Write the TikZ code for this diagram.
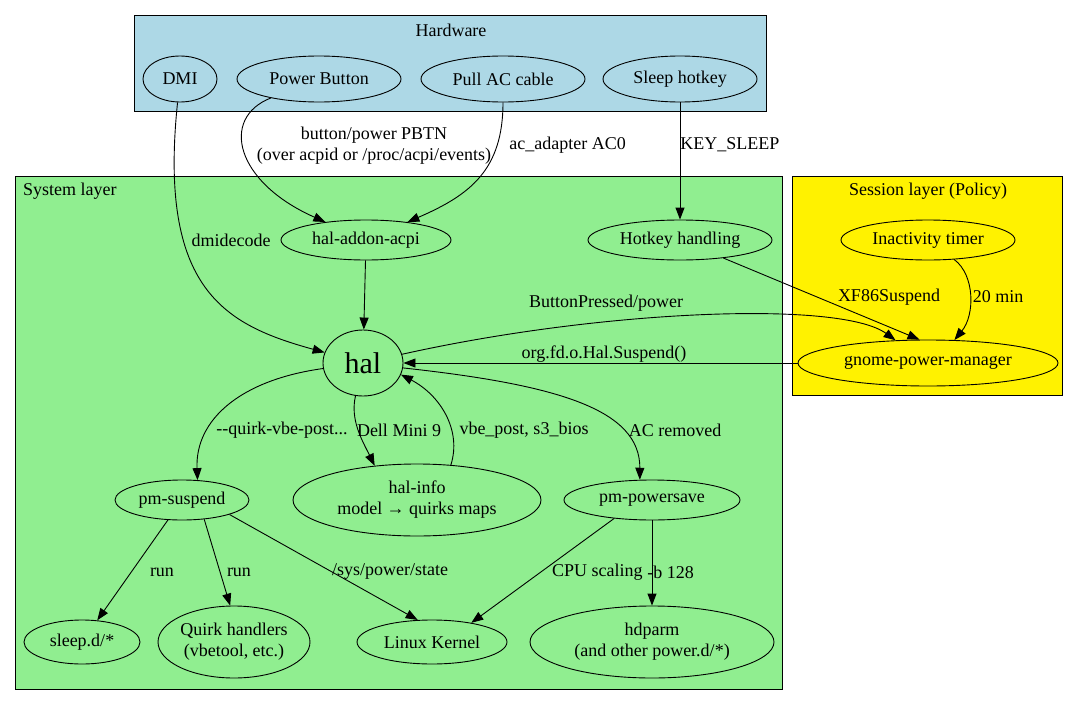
\documentclass[tikz,border=0pt]{standalone}
\usepackage{fontspec}
\setmainfont{Liberation Serif}
\usepackage{tikz}
\usetikzlibrary{arrows.meta,shapes.geometric}
\definecolor{hwblue}{HTML}{ADD8E6}
\definecolor{sysgreen}{HTML}{90EE90}

\begin{document}
\begin{tikzpicture}[x=1pt,y=-1pt,
    gv/.style={ellipse,draw,inner sep=0pt,align=center,line width=0.9pt,
      font=\fontsize{18}{21}\selectfont},
    lbl/.style={inner sep=0pt,align=center,font=\fontsize{18}{21}\selectfont},
    gve/.style={-{Triangle[length=12pt,width=9pt]},line width=0.9pt}]
    \useasboundingbox (0,0) rectangle (1077,715);
    % clusters
    \draw[fill=hwblue,line width=0.9pt] (134,15) rectangle (766,111);
    \node[lbl] (hwlab) at (451,30) {Hardware};
    \draw[fill=sysgreen,line width=0.9pt] (15,176) rectangle (782,689);
    \node[lbl,anchor=west] (syslab) at (23,191) {System layer};
    \draw[fill=yellow,line width=0.9pt] (792,176) rectangle (1062,395);
    \node[lbl] (seslab) at (928,191) {Session layer (Policy)};
    % hardware
    \node[gv,minimum width=74,minimum height=46] (dmi) at (180,79) {DMI};
    \node[gv,minimum width=164,minimum height=46] (pbtn) at (319,79) {Power Button};
    \node[gv,minimum width=164,minimum height=46] (acplug) at (503,79) {Pull AC cable};
    \node[gv,minimum width=154,minimum height=46] (slkey) at (680,79) {Sleep hotkey};
    % system layer
    \node[gv,minimum width=170,minimum height=40] (acpi) at (366,240) {hal-addon-acpi};
    \node[gv,minimum width=184,minimum height=40] (hotkey) at (680,240) {Hotkey handling};
    \node[gv,minimum width=80,minimum height=66,font=\fontsize{30}{32}\selectfont] (hal) at (363,363) {hal};
    \node[gv,minimum width=134,minimum height=40] (pmsus) at (182,500) {pm-suspend};
    \node[gv,minimum width=248,minimum height=72] (halinfo) at (417,500) {hal-info\\model → quirks maps};
    \node[gv,minimum width=176,minimum height=40] (pmpow) at (652,500) {pm-powersave};
    \node[gv,minimum width=116,minimum height=44] (sleepd) at (82,642) {sleep.d/*};
    \node[gv,minimum width=144,minimum height=72] (quirk) at (234,642) {Quirk handlers\\(vbetool, etc.)};
    \node[gv,minimum width=150,minimum height=44] (kernel) at (432,642) {Linux Kernel};
    \node[gv,minimum width=244,minimum height=72] (hdparm) at (652,642) {hdparm\\(and other power.d/*)};
    % session layer
    \node[gv,minimum width=174,minimum height=40] (inact) at (928,240) {Inactivity timer};
    \node[gv,minimum width=260,minimum height=46] (gpm) at (928,363) {gnome-power-manager};
    % edges
    \draw[gve] (dmi) .. controls (158,290) and (225,325) .. (hal)
      node[lbl] at (231,240) {dmidecode};
    \draw[gve] (pbtn) .. controls (220,118) and (235,182) .. (acpi)
      node[lbl] at (374,146) {button/power PBTN\\(over acpid or /proc/acpi/events)};
    \draw[gve] (acplug) .. controls (503,170) and (470,195) .. (acpi)
      node[lbl,anchor=west] at (509,145) {ac\_adapter AC0};
    \draw[gve] (slkey) -- (hotkey)
      node[lbl,anchor=west] at (680,145) {KEY\_SLEEP};
    \draw[gve] (acpi) -- (hal);
    \draw[gve] (hotkey) -- (gpm.110)
      node[lbl] at (889,297) {XF86Suspend};
    \draw[gve] (inact) .. controls (975,275) and (975,315) .. (gpm.41)
      node[lbl] at (998,297) {20 min};
    \draw[gve] (hal) .. controls (600,310) and (840,300) .. (gpm.145)
      node[lbl] at (606,303) {ButtonPressed/power};
    \draw[gve] (gpm) -- (hal)
      node[lbl] at (604,354) {org.fd.o.Hal.Suspend()};
    \draw[gve] (hal) .. controls (240,380) and (195,420) .. (pmsus.52)
      node[lbl] at (282,430) {-{}-quirk-vbe-post...};
    \draw[gve] (hal) .. controls (350,420) and (362,440) .. (halinfo.141)
      node[lbl] at (399,430) {Dell Mini 9};
    \draw[gve] (halinfo.46) .. controls (462,430) and (440,395) .. (hal.-17)
      node[lbl] at (524,430) {vbe\_post, s3\_bios};
    \draw[gve] (hal.-7) .. controls (560,385) and (640,410) .. (pmpow.121)
      node[lbl] at (675,430) {AC removed};
    \draw[gve] (pmsus) -- (sleepd)
      node[lbl] at (162,572) {run};
    \draw[gve] (pmsus.-41) -- (quirk.96)
      node[lbl] at (239,572) {run};
    \draw[gve] (pmsus.-17) -- (kernel.123)
      node[lbl] at (390,572) {/sys/power/state};
    \draw[gve] (pmpow.206) -- (kernel.26)
      node[lbl,anchor=east] at (643,572) {CPU scaling};
    \draw[gve] (pmpow) -- (hdparm)
      node[lbl,anchor=west] at (647,572) {-b 128};
\end{tikzpicture}
\end{document}
